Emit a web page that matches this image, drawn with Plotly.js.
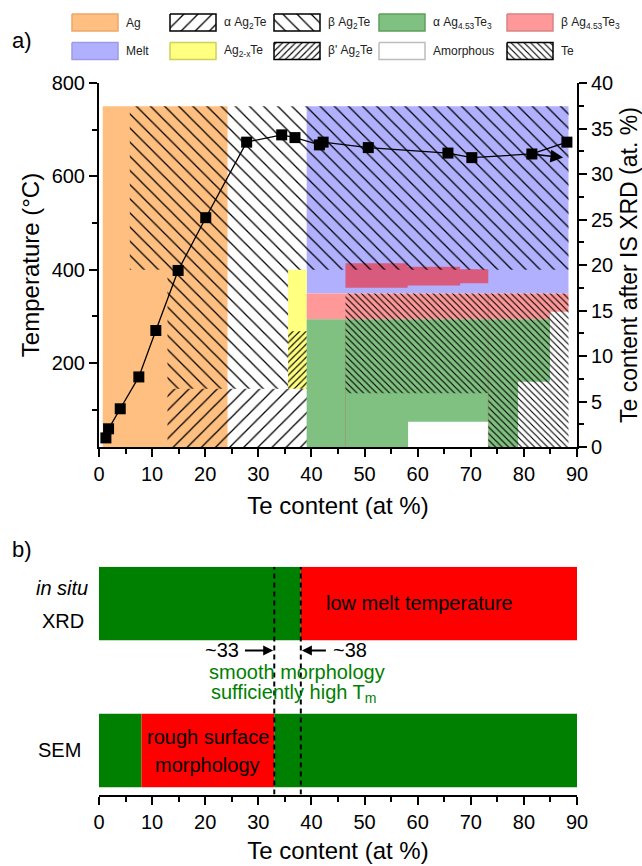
<!DOCTYPE html>
<html><head><meta charset="utf-8">
<script src="https://cdn.plot.ly/plotly-3.0.1.min.js"></script>
<style>html,body{margin:0;padding:0;background:#fff}#chart{width:642px;height:866px}</style>
</head><body><div id="chart"></div>
<script>
// ===== Panel a: measured Te content after in-situ XRD =====
const teNominal  = [1.3, 1.8, 4.0, 7.5, 10.7, 14.9, 20.1, 27.8, 34.4, 36.9, 41.5, 42.2, 50.7, 65.7, 70.2, 81.5, 88.1];
const teAfterXRD = [1.0, 2.0, 4.2, 7.7, 12.8, 19.4, 25.2, 33.5, 34.3, 34.0, 33.2, 33.5, 32.9, 32.3, 31.8, 32.2, 33.5];
const trendFrom = [81.5, 32.2];   // arrow (Te content, Te after XRD)
const trendTo   = [87.4, 31.8];

// ===== Panel a: phase regions (Te content at%, temperature °C) =====
const agX        = [0.7, 24.2, 24.2, 0.7];            const agT        = [20, 20, 750, 750];
const meltX      = [39.1, 88.4, 88.4, 39.1];          const meltT      = [349, 349, 750, 750];
const ag2xTeX    = [35.6, 39.1, 39.1, 35.6];          const ag2xTeT    = [145, 145, 400, 400];
const betaAg453X = [39.1, 88.4, 88.4, 84.9, 84.9, 39.1]; const betaAg453T = [349, 349, 310, 310, 294, 294];
const betaMeltX  = [46.4, 58.1, 58.1, 68.0, 68.0, 73.3, 73.3, 68.0, 68.0, 58.1, 58.1, 46.4];
const betaMeltT  = [414, 414, 406, 406, 401, 401, 371, 371, 366, 366, 361, 361];
const alphaAg453X = [39.1, 84.9, 84.9, 78.9, 78.9, 39.1]; const alphaAg453T = [294, 294, 160, 160, 20, 20];
const amorphX    = [58.2, 73.3, 73.3, 58.2];          const amorphT    = [20, 20, 74, 74];
const betaAg2TeX = [5.8, 88.4, 88.4, 35.6, 35.6, 12.9, 12.9, 5.8];
const betaAg2TeT = [750, 750, 400, 400, 145, 145, 400, 400];
const alphaAg2TeX = [12.9, 39.1, 39.1, 12.9];         const alphaAg2TeT = [20, 20, 145, 145];
const betaPrimeX = [35.6, 39.1, 39.1, 35.6];          const betaPrimeT = [145, 145, 268, 268];
const teX        = [46.4, 88.4, 88.4, 73.3, 73.3, 46.4]; const teT    = [349, 349, 20, 20, 135, 135];
const phaseEdgeX = [46.4, 73.3];                       const phaseEdgeTop = [294, 349];

// ===== Panel b =====
const rowNames = ['SEM', 'in situ XRD'];
const xrdStart = [0, 38];      const xrdEnd = [38, 90];     const xrdOk = [true, false];
const semStart = [0, 8, 33];   const semEnd = [8, 33, 90];  const semOk = [true, false, true];
const morphLimit = 33;         const meltLimit = 38;

// ===== Legend =====
const legendLabels = ['Ag', 'α Ag<sub>2</sub>Te', 'β Ag<sub>2</sub>Te', 'α Ag<sub>4.53</sub>Te<sub>3</sub>', 'β Ag<sub>4.53</sub>Te<sub>3</sub>',
                      'Melt', 'Ag<sub>2-x</sub>Te', "β' Ag<sub>2</sub>Te", 'Amorphous', 'Te'];

// ---------- styles ----------
const FONT = 'Arial, "Liberation Sans", sans-serif';
const C = {ag:'#FFBF80', melt:'#B0B0FF', yellow:'#FFFF80', pink:'#FF9999', darkpink:'#D85A7C', green:'#80C080', white:'#FFFFFF',
           okGreen:'#008000', badRed:'#FF0000'};
const sparse = s => ({shape:s, size:10, solidity:0.13, fgcolor:'#000', bgcolor:'rgba(0,0,0,0)'});
const dense  = s => ({shape:s, size:4.6, solidity:0.25, fgcolor:'#000', bgcolor:'rgba(0,0,0,0)'});
const legendStyle = [
  {fill:C.ag, border:'#EBA86A'}, {fill:'#fff', border:'#000', pat:sparse('/')}, {fill:'#fff', border:'#000', pat:sparse('\\')},
  {fill:C.green, border:'#5E9E5E'}, {fill:C.pink, border:'#D88484'},
  {fill:C.melt, border:'#9C9CE6'}, {fill:C.yellow, border:'#CFCF60'}, {fill:'#fff', border:'#000', pat:dense('/')},
  {fill:'#fff', border:'#BDBDBD'}, {fill:'#fff', border:'#000', pat:dense('\\')}
];
const legendColX = [72, 170, 274, 379, 507], legendRowY = [22.5, 51], swW = 46, swH = 17;

const W = 642, H = 866;
const px = v => v / W, py = v => 1 - v / H;

function closed(a) { return a.concat([a[0]]); }
function region(xs, ts, fill, pat) {
  const t = {type:'scatter', mode:'lines', x:closed(xs), y:closed(ts), xaxis:'x', yaxis:'y',
             fill:'toself', fillcolor:fill, line:{width:0, color:'rgba(0,0,0,0)'}, hoverinfo:'skip'};
  if (pat) t.fillpattern = pat;
  return t;
}

const traces = [
  region(agX, agT, C.ag),
  region(meltX, meltT, C.melt),
  region(ag2xTeX, ag2xTeT, C.yellow),
  region(betaAg453X, betaAg453T, C.pink),
  region(betaMeltX, betaMeltT, C.darkpink),
  region(alphaAg453X, alphaAg453T, C.green),
  region(amorphX, amorphT, C.white)
];
phaseEdgeX.forEach((xv, i) => traces.push({type:'scatter', mode:'lines', xaxis:'x', yaxis:'y',
  x:[xv, xv], y:[20, phaseEdgeTop[i]], line:{color:'rgba(190,110,100,0.35)', width:1}, hoverinfo:'skip'}));
traces.push(
  region(betaAg2TeX, betaAg2TeT, 'rgba(0,0,0,0)', sparse('\\')),
  region(alphaAg2TeX, alphaAg2TeT, 'rgba(0,0,0,0)', sparse('/')),
  region(betaPrimeX, betaPrimeT, 'rgba(0,0,0,0)', dense('/')),
  region(teX, teT, 'rgba(0,0,0,0)', dense('\\')),
  {type:'scatter', mode:'lines+markers', x:teNominal, y:teAfterXRD, xaxis:'x', yaxis:'y2',
   line:{color:'#000', width:1.3}, marker:{symbol:'square', size:11, color:'#000'}, hoverinfo:'skip'}
);

// panel b bars
function segBars(row, starts, ends, ok) {
  return {type:'bar', orientation:'h', xaxis:'x2', yaxis:'y3', y:starts.map(() => row),
          base:starts, x:starts.map((s, i) => ends[i] - s), width:0.5,
          marker:{color:ok.map(o => o ? C.okGreen : C.badRed), line:{width:0}}, hoverinfo:'skip'};
}
traces.push(segBars(1, xrdStart, xrdEnd, xrdOk));
traces.push(segBars(0, semStart, semEnd, semOk));
[morphLimit, meltLimit].forEach(v => traces.push({type:'scatter', mode:'lines', xaxis:'x2', yaxis:'y3',
  x:[v, v], y:[-0.3, 1.25], line:{color:'#000', width:2, dash:'5px,4px'}, hoverinfo:'skip'}));

// legend swatches
legendLabels.forEach((lab, i) => {
  const col = i % 5, row = Math.floor(i / 5), st = legendStyle[i];
  const x0 = legendColX[col], y0 = legendRowY[row] - swH / 2;
  const t = {type:'scatter', mode:'lines', xaxis:'x3', yaxis:'y4',
    x:[x0, x0 + swW, x0 + swW, x0, x0], y:[y0, y0, y0 + swH, y0 + swH, y0],
    fill:'toself', fillcolor:st.fill, line:{color:st.border, width:1.5}, hoverinfo:'skip'};
  if (st.pat) t.fillpattern = Object.assign({}, st.pat, {bgcolor:'#fff'});
  traces.push(t);
});

const axisBase = {showgrid:false, zeroline:false, showline:true, linecolor:'#000', linewidth:2,
  ticks:'outside', ticklen:8, tickwidth:2, tickcolor:'#000', tickfont:{size:20, family:FONT}};
const minor = d => ({dtick:d, ticks:'outside', ticklen:5, tickwidth:2, tickcolor:'#000', showgrid:false});

const annotations = [
  {xref:'paper', yref:'paper', x:px(10), y:py(40), xanchor:'left', yanchor:'middle', text:'a)', showarrow:false, font:{size:22}},
  {xref:'paper', yref:'paper', x:px(10), y:py(549), xanchor:'left', yanchor:'middle', text:'b)', showarrow:false, font:{size:22}},
  {xref:'x', yref:'y2', x:trendTo[0], y:trendTo[1], axref:'x', ayref:'y2', ax:trendFrom[0], ay:trendFrom[1],
   text:'', showarrow:true, arrowhead:2, arrowsize:1.7, arrowwidth:1.5, arrowcolor:'#000', standoff:0},
  // panel b row labels
  {xref:'paper', yref:'y3', x:px(62), xanchor:'center', y:1.105, text:'<i>in situ</i>', showarrow:false, font:{size:20}},
  {xref:'paper', yref:'y3', x:px(63), xanchor:'center', y:0.883, text:'XRD', showarrow:false, font:{size:20}},
  {xref:'paper', yref:'y3', x:px(59), xanchor:'center', y:0, text:'SEM', showarrow:false, font:{size:20}},
  {xref:'x2', yref:'y3', x:60.3, xanchor:'center', y:1, text:'low melt temperature', showarrow:false, font:{size:20}},
  {xref:'x2', yref:'y3', x:20.5, xanchor:'center', y:0.094, text:'rough surface', showarrow:false, font:{size:20}},
  {xref:'x2', yref:'y3', x:20.5, xanchor:'center', y:-0.099, text:'morphology', showarrow:false, font:{size:20}},
  {xref:'x2', yref:'y3', x:morphLimit - 0.2, y:0.68, axref:'x2', ayref:'y3', ax:27.2, ay:0.68,
   text:'', showarrow:true, arrowhead:2, arrowsize:1, arrowwidth:2, arrowcolor:'#000', standoff:0},
  {xref:'x2', yref:'y3', x:meltLimit + 0.2, y:0.68, axref:'x2', ayref:'y3', ax:43.0, ay:0.68,
   text:'', showarrow:true, arrowhead:2, arrowsize:1, arrowwidth:2, arrowcolor:'#000', standoff:0},
  {xref:'x2', yref:'y3', x:26.7, y:0.68, xanchor:'right', text:'~' + morphLimit, showarrow:false, font:{size:20}},
  {xref:'x2', yref:'y3', x:43.6, y:0.68, xanchor:'left', text:'~' + meltLimit, showarrow:false, font:{size:20}},
  {xref:'x2', yref:'y3', x:37.2, xanchor:'center', y:0.535, text:'smooth morphology', showarrow:false, font:{size:20, color:C.okGreen}},
  {xref:'x2', yref:'y3', x:36.6, xanchor:'center', y:0.385, text:'sufficiently high T<sub>m</sub>', showarrow:false, font:{size:20, color:C.okGreen}}
];
legendLabels.forEach((lab, i) => {
  const col = i % 5, row = Math.floor(i / 5);
  annotations.push({xref:'x3', yref:'y4', x:legendColX[col] + swW + 6, y:legendRowY[row], xanchor:'left', yanchor:'middle',
    text:lab, showarrow:false, font:{size:12, color:'#222'}});
});

const layout = {
  width:W, height:H, margin:{l:0, r:0, t:0, b:0},
  paper_bgcolor:'#fff', plot_bgcolor:'rgba(0,0,0,0)', showlegend:false, barmode:'overlay',
  font:{family:FONT, size:20, color:'#000'},
  xaxis:Object.assign({}, axisBase, {domain:[px(99), px(577)], range:[0, 90], anchor:'y', tick0:0, dtick:10, minor:minor(5),
    title:{text:'Te content (at %)', font:{size:24}, standoff:13}}),
  yaxis:Object.assign({}, axisBase, {domain:[py(447), py(83)], range:[20, 800], anchor:'x', tick0:0, dtick:200, minor:minor(100),
    title:{text:'Temperature (°C)', font:{size:24}, standoff:5}}),
  yaxis2:Object.assign({}, axisBase, {overlaying:'y', side:'right', anchor:'x', range:[0, 40], tick0:0, dtick:5, minor:minor(2.5),
    title:{text:'Te content after IS XRD (at. %)', font:{size:23}, standoff:10}}),
  xaxis2:Object.assign({}, axisBase, {domain:[px(99), px(577)], range:[0, 90], anchor:'y3', tick0:0, dtick:10, minor:minor(5),
    title:{text:'Te content (at %)', font:{size:24}, standoff:11}}),
  yaxis3:{domain:[py(794.6), py(566.65)], range:[-0.3, 1.25], visible:false, anchor:'x2', fixedrange:true},
  xaxis3:{domain:[0, 1], range:[0, W], visible:false, anchor:'y4'},
  yaxis4:{domain:[py(70), 1], range:[70, 0], visible:false, anchor:'x3'},
  annotations:annotations
};

Plotly.newPlot('chart', traces, layout, {staticPlot:true, displayModeBar:false});
</script></body></html>
